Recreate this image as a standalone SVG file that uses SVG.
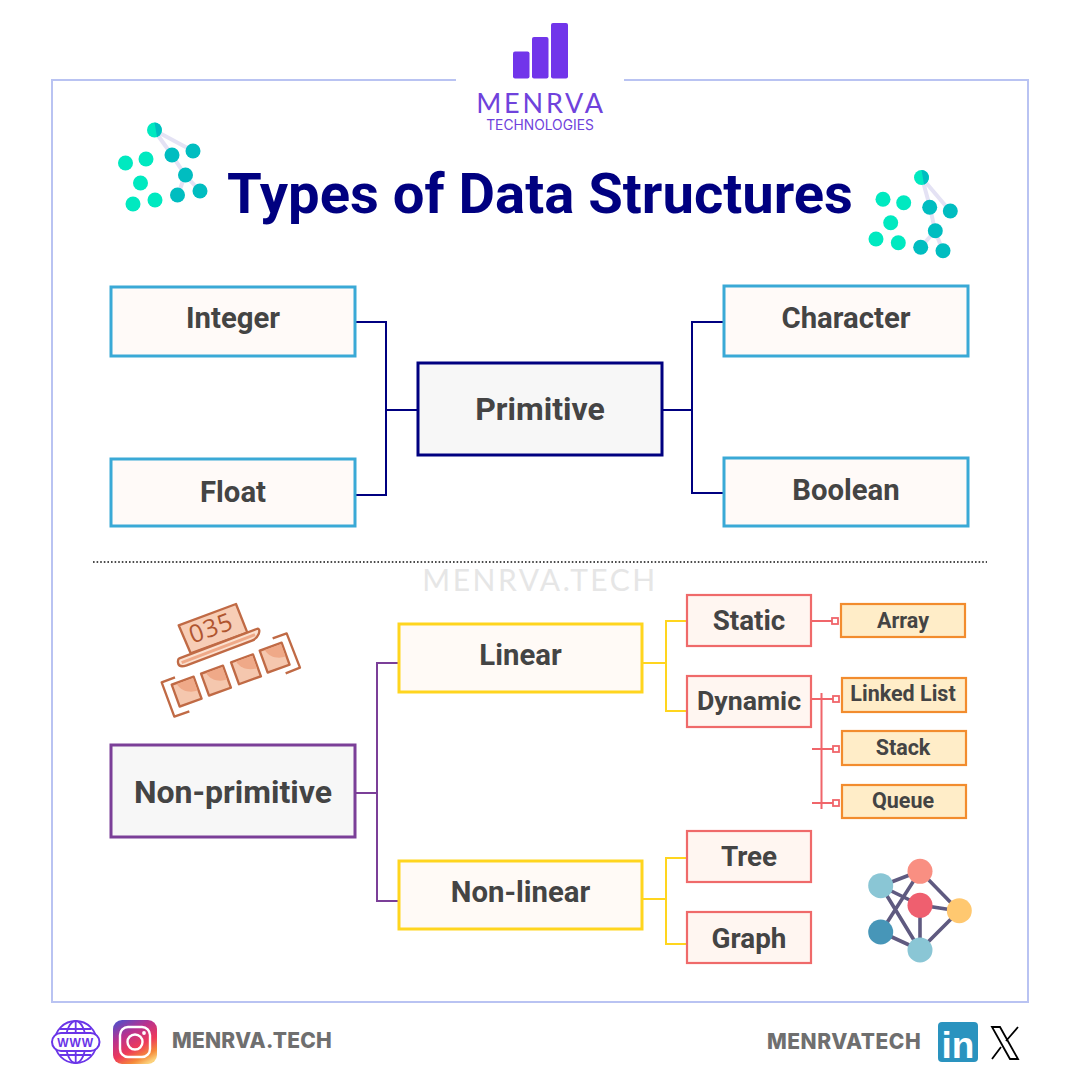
<svg xmlns="http://www.w3.org/2000/svg" width="1080" height="1080" viewBox="0 0 1080 1080">
<style>
text{font-family:Roboto,"Liberation Sans",sans-serif;font-weight:700;fill:#444;text-anchor:middle}
.box{stroke-width:3}
.prim{fill:#FFFAF8;stroke:#3AA9D6}
.root{fill:#F7F7F7}
.yel{fill:#FFFAF6;stroke:#FFD51E}
.red{fill:#FFF6F1;stroke:#EF6A6A;stroke-width:2.200}
.org{fill:#FFEDC8;stroke:#F28C2E;stroke-width:2.200}
.conn{fill:none;stroke-width:2}
.gr{fill:#00E9C0}.te{fill:#00BDC0}
.edge{stroke:#E4E2F4;stroke-width:4;fill:none}
.brand{font-family:Inter,Lato,sans-serif;fill:#6F6F6F;font-weight:800;text-anchor:start}
.ic{stroke:#C06A45;stroke-width:7;stroke-linejoin:round}
.ge{stroke:#5F5A80;stroke-width:3.6}
.gl{fill:none;stroke:#6A35E8;stroke-width:1.8}
</style>
<defs>
<linearGradient id="ig" x1="0.2" y1="0" x2="0.75" y2="1"><stop offset="0" stop-color="#5B4CC4"/><stop offset=".3" stop-color="#B8328F"/><stop offset=".62" stop-color="#EE3A5A"/><stop offset=".85" stop-color="#F58B3A"/><stop offset="1" stop-color="#FBD07A"/></linearGradient>
<g id="sq"><rect x="-35" y="-35" width="70" height="70" class="ic" fill="#F5C7AE"/><path d="M-32 -8C-8 -8 16 8 20 32H-32Z" fill="#EFA988" transform="rotate(180)"/></g>
</defs>
<rect width="1080" height="1080" fill="#fff"/>
<path d="M456 80H52V1002H1028V80H624" fill="none" stroke="#B9C3F2" stroke-width="2"/>
<g id="logo">
<rect x="513" y="51.500" width="16.500" height="27" rx="2" fill="#7135EA"/>
<rect x="532" y="37" width="16.500" height="41.500" rx="2" fill="#7135EA"/>
<rect x="551" y="23" width="17" height="55.500" rx="2" fill="#7135EA"/>
<text x="541" y="113" style="font-family:Lato,sans-serif;font-weight:400;fill:#6F42DC;font-size:27px;letter-spacing:2.800px">MENRVA</text>
<text x="540" y="130" style="font-family:Inter,sans-serif;font-weight:400;fill:#6F42DC;font-size:13.800px">TECHNOLOGIES</text>
</g>
<g id="title"><text x="540" y="213" style="fill:#000080;font-size:56.200px;font-weight:700">Types of Data Structures</text></g>
<g id="tree-left">
<path class="edge" d="M154 130L193 151M154 130L172 155L185 175L200 191M185 175L178 195"/>
<circle cx="154.500" cy="130" r="7.500" class="gr"/><path d="M154.500 122.500A7.500 7.500 0 0 1 157 137Z" class="te"/>
<circle cx="172" cy="155" r="7.500" class="te"/><circle cx="193" cy="151" r="7.500" class="te"/><circle cx="185.500" cy="175" r="7.500" class="te"/><circle cx="200" cy="191" r="7.500" class="te"/><circle cx="177.500" cy="195" r="7.500" class="te"/>
<circle cx="125.500" cy="163" r="7.500" class="gr"/><circle cx="146" cy="159" r="7.500" class="gr"/><circle cx="140.500" cy="183" r="7.500" class="gr"/><circle cx="133" cy="204" r="7.500" class="gr"/><circle cx="155" cy="200" r="7.500" class="gr"/>
</g>
<g id="tree-right">
<path class="edge" d="M922 178L950 211M922 178L930 207L935 231L943 251M935 231L921 247"/>
<circle cx="921.500" cy="177.500" r="7.500" class="gr"/><path d="M921.500 170A7.500 7.500 0 0 1 924 184.500Z" class="te"/>
<circle cx="929.700" cy="207.300" r="7.500" class="te"/><circle cx="950.300" cy="211" r="7.500" class="te"/><circle cx="935.300" cy="230.700" r="7.500" class="te"/><circle cx="943" cy="250.700" r="7.500" class="te"/><circle cx="920.700" cy="247.300" r="7.500" class="te"/>
<circle cx="883" cy="199.300" r="7.500" class="gr"/><circle cx="903.700" cy="202.700" r="7.500" class="gr"/><circle cx="890.700" cy="222.700" r="7.500" class="gr"/><circle cx="876" cy="239" r="7.500" class="gr"/><circle cx="898.300" cy="242.700" r="7.500" class="gr"/>
</g>
<g id="connectors">
<path class="conn" stroke="#000080" d="M356 322H386V495H356M386 410H418M662 410H692M724 322H692V493H724"/>
<path class="conn" stroke="#7B3F98" d="M355 793H377M399 663H377V901H399"/>
<path class="conn" stroke="#FFD51E" d="M642 663H666M687 621H666V711H687M642 899H666M687 858H666V944H687"/>
<path class="conn" stroke="#F0656A" d="M811 621H832M811 699H833M812 749H833M812 803H833M821.500 693V809"/>
<g fill="#FFF" stroke="#F0656A" stroke-width="1.800"><rect x="832" y="618" width="6" height="6"/><rect x="833" y="696" width="6" height="6"/><rect x="833" y="746" width="6" height="6"/><rect x="833" y="800" width="6" height="6"/></g>
</g>
<path id="divider" d="M93 562H987" stroke="#111" stroke-width="1.600" stroke-dasharray="1.600 2"/>
<text id="watermark" x="540" y="591" style="font-family:Lato,sans-serif;font-weight:400;fill:#E6E6E6;font-size:30px;letter-spacing:2.500px">MENRVA.TECH</text>
<g id="n-integer"><rect class="box prim" x="111" y="287" width="244" height="69"/><text x="233" y="328" font-size="29.300">Integer</text></g>
<g id="n-float"><rect class="box prim" x="111" y="459" width="244" height="67"/><text x="233" y="502" font-size="29.300">Float</text></g>
<g id="n-character"><rect class="box prim" x="724" y="286" width="244" height="70"/><text x="846" y="328" font-size="29.300">Character</text></g>
<g id="n-boolean"><rect class="box prim" x="724" y="458" width="244" height="68"/><text x="846" y="500" font-size="29.300">Boolean</text></g>
<g id="n-primitive"><rect class="box root" stroke="#000080" x="418" y="363" width="244" height="92"/><text x="540" y="420" font-size="32">Primitive</text></g>
<g id="n-nonprimitive"><rect class="box root" stroke="#7B3F98" x="111" y="745" width="244" height="92"/><text x="233" y="803" font-size="32">Non-primitive</text></g>
<g id="n-linear"><rect class="box yel" x="399" y="624" width="243" height="68"/><text x="520.500" y="665" font-size="29.300">Linear</text></g>
<g id="n-nonlinear"><rect class="box yel" x="399" y="861" width="243" height="68"/><text x="520.500" y="902" font-size="29.300">Non-linear</text></g>
<g id="n-static"><rect class="red" x="687" y="595" width="124" height="51"/><text x="749" y="630" font-size="27.800">Static</text></g>
<g id="n-dynamic"><rect class="red" x="687" y="676" width="124" height="51"/><text x="749" y="710" font-size="26.700">Dynamic</text></g>
<g id="n-tree"><rect class="red" x="687" y="831" width="124" height="51"/><text x="749" y="866" font-size="27.800">Tree</text></g>
<g id="n-graph"><rect class="red" x="687" y="912" width="124" height="51"/><text x="749" y="948" font-size="27.800">Graph</text></g>
<g id="n-array"><rect class="org" x="841" y="604" width="124" height="33"/><text x="903" y="628" font-size="21.500">Array</text></g>
<g id="n-linked"><rect class="org" x="842" y="678" width="124" height="34"/><text x="903" y="701" font-size="21.500">Linked List</text></g>
<g id="n-stack"><rect class="org" x="842" y="731" width="124" height="34"/><text x="903" y="755" font-size="21.500">Stack</text></g>
<g id="n-queue"><rect class="org" x="842" y="785" width="124" height="33"/><text x="903" y="808" font-size="21.500">Queue</text></g>
<g id="icon-memory" transform="translate(140 590) scale(.3333)">
<polygon class="ic" points="116,106 288,42 322,128 152,190" fill="#F7CDB6"/>
<text x="0" y="0" transform="translate(222 138) rotate(-20)" style="font-family:'Open Sans',sans-serif;font-weight:400;fill:#B0552F;font-size:74px;letter-spacing:3px">035</text>
<path class="ic" d="M118 205L350 117C358 114 360 122 356 132C352 142 346 148 336 152L140 226C128 230 118 230 115 222C113 214 112 208 118 205Z" fill="#FBE0CF"/>
<path d="M125 218L345 134" stroke="#EFA988" stroke-width="9" fill="none"/>
<use href="#sq" transform="translate(140 305) rotate(-20)"/>
<use href="#sq" transform="translate(228 272) rotate(-20)"/>
<use href="#sq" transform="translate(318 238) rotate(-20)"/>
<use href="#sq" transform="translate(404 203) rotate(-20)"/>
<polyline class="ic" fill="none" points="105,262 65,277 103,380 148,364"/>
<polyline class="ic" fill="none" points="398,145 440,130 480,233 437,250"/>
</g>
<g id="icon-graph">
<path class="ge" fill="none" d="M881 886L920 871L881 932M881 886L920 905L959 911L920 950L881 932M881 886L920 950L920 905M920 871L959 911"/>
<circle cx="920" cy="871.300" r="12.500" fill="#F98F82"/><circle cx="880.700" cy="885.700" r="12.500" fill="#8AC6D5"/><circle cx="920" cy="905.300" r="12.500" fill="#EF5F6F"/><circle cx="959.300" cy="910.700" r="12.500" fill="#FFC870"/><circle cx="880.700" cy="932" r="12.500" fill="#4796B8"/><circle cx="920" cy="950" r="12.500" fill="#8AC6D5"/>
</g>
<g id="footer-left">
<circle cx="75.700" cy="1042" r="21" class="gl"/>
<ellipse cx="75.700" cy="1042" rx="10" ry="21" class="gl"/><path class="gl" d="M75.700 1021V1063M60 1029H91M60 1055H91"/>
<rect x="52" y="1033" width="47.500" height="18" rx="9" fill="#fff" stroke="#6A35E8" stroke-width="2"/>
<text x="75.700" y="1047" style="font-family:'Liberation Sans',sans-serif;fill:#6A35E8;font-size:12px;letter-spacing:1px">WWW</text>
<rect x="113" y="1020" width="44" height="44" rx="9" fill="url(#ig)"/>
<rect x="120" y="1027" width="30" height="30" rx="8" fill="none" stroke="#fff" stroke-width="2.400"/>
<circle cx="135" cy="1042" r="7.500" fill="none" stroke="#fff" stroke-width="2.400"/><circle cx="144" cy="1033" r="1.900" fill="#fff"/>
<text class="brand" x="172" y="1048" font-size="21" letter-spacing="0.200">MENRVA.TECH</text>
</g>
<g id="footer-right">
<text class="brand" x="767" y="1049" font-size="21" letter-spacing="0.500">MENRVATECH</text>
<rect x="938" y="1022" width="40" height="40" rx="4" fill="#2A93BF"/>
<text x="958" y="1058" style="font-family:'Liberation Sans',sans-serif;fill:#fff;font-size:37px">in</text>
<path d="M992 1027H1000L1018 1059H1010ZM1018 1027L1006 1041M1001 1047L992 1059" fill="none" stroke="#000" stroke-width="1.800"/>
</g>
</svg>
